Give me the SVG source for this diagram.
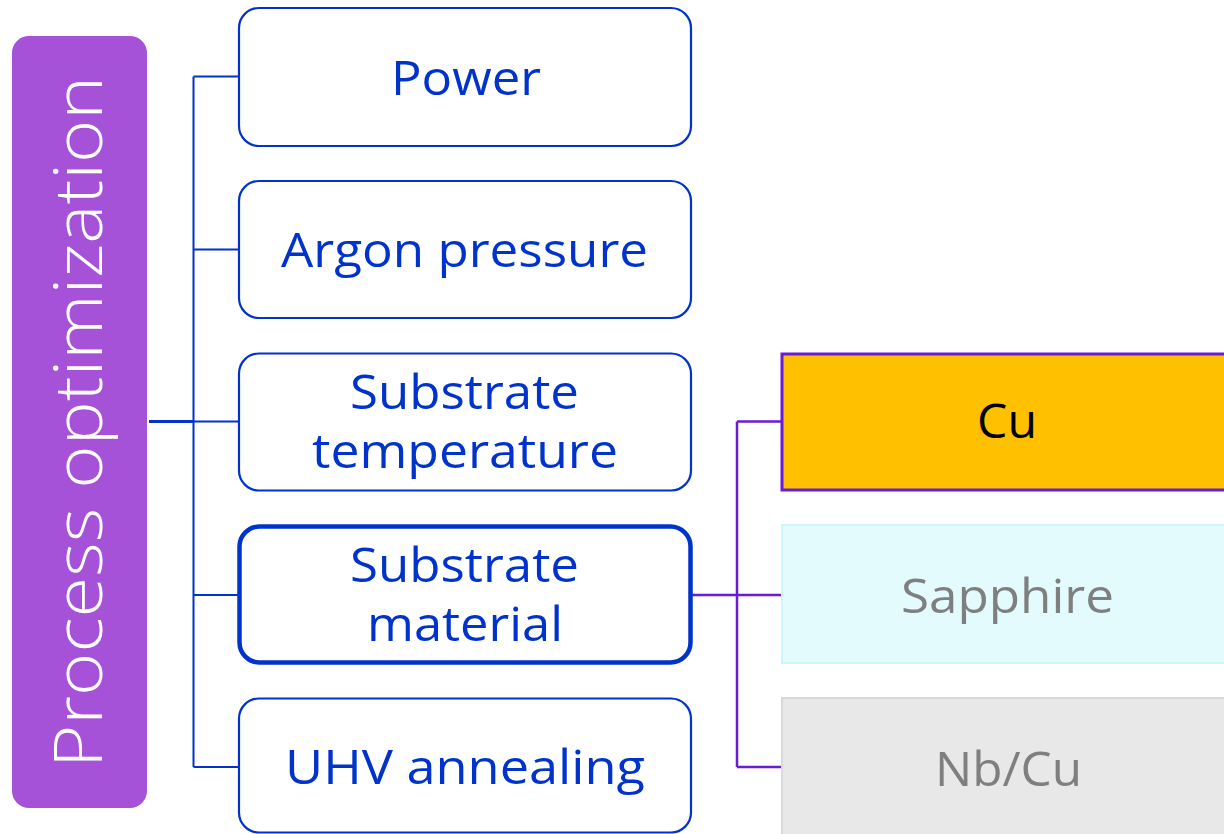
<svg xmlns="http://www.w3.org/2000/svg" width="1224" height="834" viewBox="0 0 1224 834">
<style>
.node rect{fill:#fff;stroke:#0033CC;stroke-width:2.2}
.node text{font-family:"Open Sans","Liberation Sans",sans-serif;font-size:47px;fill:#0033CC;text-anchor:middle}
.opt text{font-family:"Open Sans","Liberation Sans",sans-serif;font-size:47px;text-anchor:middle}
.blue{stroke:#0033CC;stroke-width:2;fill:none}
.purple{stroke:#6A1BD6;stroke-width:2.5;fill:none}
</style>
<rect width="1224" height="834" fill="#fff"/>
<g id="connectors">
<path class="blue" d="M149 421.5H193.5" style="stroke-width:3"/>
<path class="blue" d="M193.5 76.5V767 M193.5 76.5H239 M193.5 249.5H239 M193.5 421.5H239 M193.5 595H239 M193.5 767H239"/>
<path class="purple" d="M692 595H781 M737 421.5V767 M737 421.5H781 M737 767H781"/>
</g>
<g id="root">
<rect x="12" y="36" width="135" height="772" rx="17" fill="#A652D8"/>
<text transform="translate(102 422) rotate(-90)" text-anchor="middle" textLength="692" lengthAdjust="spacingAndGlyphs" font-family="'Open Sans','Liberation Sans',sans-serif" font-weight="300" font-size="66" fill="#fff">Process optimization</text>
</g>
<g id="n-power" class="node">
<rect x="239" y="8" width="452" height="138" rx="20"/>
<text x="466" y="94.5" textLength="150" lengthAdjust="spacingAndGlyphs">Power</text>
</g>
<g id="n-argon" class="node">
<rect x="239" y="181" width="452" height="137" rx="20"/>
<text x="464.5" y="266.5" textLength="367" lengthAdjust="spacingAndGlyphs">Argon pressure</text>
</g>
<g id="n-temp" class="node">
<rect x="239" y="353.5" width="452" height="137" rx="20"/>
<text x="464.5" y="409" textLength="229" lengthAdjust="spacingAndGlyphs">Substrate</text>
<text x="465" y="468" textLength="306" lengthAdjust="spacingAndGlyphs">temperature</text>
</g>
<g id="n-material" class="node">
<rect x="239.5" y="526.5" width="451" height="136" rx="20" style="stroke-width:4.5"/>
<text x="464.5" y="582" textLength="229" lengthAdjust="spacingAndGlyphs">Substrate</text>
<text x="465" y="641" textLength="196" lengthAdjust="spacingAndGlyphs">material</text>
</g>
<g id="n-uhv" class="node">
<rect x="239" y="698.5" width="452" height="134" rx="20"/>
<text x="465" y="784" textLength="360" lengthAdjust="spacingAndGlyphs">UHV annealing</text>
</g>
<g id="n-cu" class="opt">
<rect x="782" y="354" width="450" height="136" fill="#FFC000" stroke="#6A1BD6" stroke-width="3"/>
<text x="1007" y="438" fill="#000" textLength="60" lengthAdjust="spacingAndGlyphs">Cu</text>
</g>
<g id="n-sapphire" class="opt">
<rect x="782" y="525" width="450" height="138" fill="#E3FBFD" stroke="#CCF7FA" stroke-width="2"/>
<text x="1007.5" y="613" fill="#7F7F7F" textLength="213" lengthAdjust="spacingAndGlyphs">Sapphire</text>
</g>
<g id="n-nbcu" class="opt">
<rect x="782" y="698" width="450" height="150" fill="#E8E8E8" stroke="#D9D9D9" stroke-width="2"/>
<text x="1008.5" y="786" fill="#7F7F7F" textLength="147" lengthAdjust="spacingAndGlyphs">Nb/Cu</text>
</g>
</svg>
